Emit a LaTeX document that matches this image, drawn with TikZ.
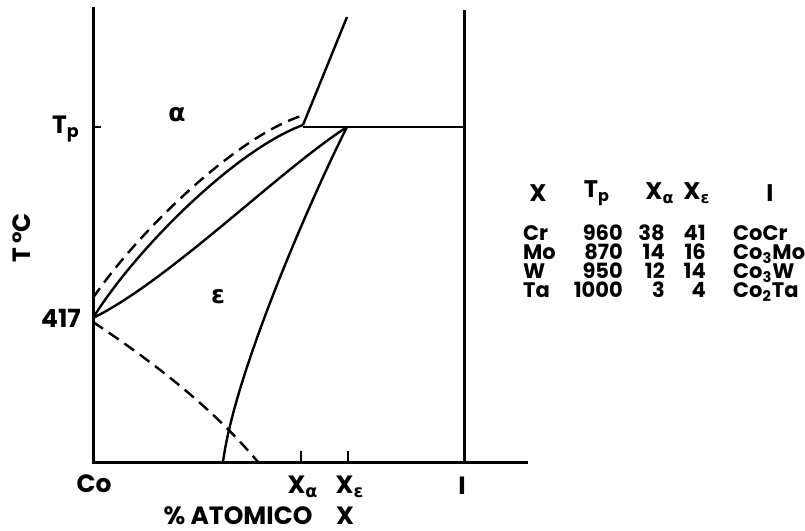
\documentclass[tikz,border=0pt]{standalone}
\usepackage{fontspec}
\setmainfont{Poppins}
\newfontfamily\greekfont{DejaVu Sans}
\usepackage{tikz}
\usetikzlibrary{positioning}

\newcommand{\al}{{\greekfont α}}
\newcommand{\ep}{{\greekfont ε}}

\begin{document}
\begin{tikzpicture}[x=0.5pt,y=-0.5pt,
    line width=1.2pt,
    axis/.style={line width=1.5pt},
    phase/.style={line width=1.2pt},
    dashline/.style={line width=1.2pt,dash pattern=on 6pt off 3.5pt},
    lbl/.style={font=\fontsize{12.5}{14}\selectfont\bfseries,inner sep=1pt},
    tab/.style={font=\fontsize{10.5}{12}\selectfont\bfseries,inner sep=0.5pt,text height=1.4ex,text depth=0pt},
    head/.style={font=\fontsize{12}{14}\selectfont\bfseries,inner sep=1pt}
  ]
    \useasboundingbox (0,0) rectangle (805,531);

    % frame of the diagram
    \coordinate (o) at (93,462);
    \coordinate (ytop) at (93,7);
    \coordinate (xend) at (528,462);
    \coordinate (itop) at (464,10);
    \coordinate (ibot) at (464,462);
    \coordinate (tp) at (93,127);
    \coordinate (tpr) at (464,127);
    \coordinate (xa) at (301,462);
    \coordinate (xe) at (348,462);
    \draw[axis] (ytop) -- (o) -- (xend);
    \draw[axis] (itop) -- (ibot);
    \draw (tp) -- ++(8,0);
    \draw (xa) -- ++(0,-11);
    \draw (xe) -- ++(0,-11);

    % phase boundaries
    \coordinate (p417) at (93,318);
    \coordinate (d417) at (93,298);
    \coordinate (m417) at (93,322);
    \coordinate (avert) at (303,125);
    \coordinate (dvert) at (301,116);
    \coordinate (evert) at (347,127);
    \coordinate (ltop) at (347,17);
    \coordinate (eend) at (223,462);
    \coordinate (dend) at (258,462);
    \draw[phase] (avert) -- (ltop);
    \draw[phase] (avert |- tpr) -- (tpr);
    \draw[phase] (p417) .. controls (135,250) and (235,150) .. (avert);
    \draw[dashline] (d417) .. controls (135,236) and (232,139) .. (dvert);
    \draw[phase] (p417) .. controls (170,280) and (280,170) .. (evert);
    \draw[phase] (evert) .. controls (315,190) and (235,370) .. (eend);
    \draw[dashline] (m417) .. controls (150,360) and (210,405) .. (dend);

    % labels of the diagram
    \node[lbl, anchor=east] (tplbl) at (83,129) {T\textsubscript{p}};
    \node[lbl, anchor=east] (lbl417) at (84,318) {417};
    \node[lbl, rotate=90] (tlbl) at (22,238) {T\,°C};
    \node[lbl] (alpha) at (177,115) {\al};
    \node[lbl] (eps) at (218,297) {\ep};
    \node[lbl] (co) at (94,484) {Co};
    \node[lbl] (xalbl) at (303,487) {X\textsubscript{\al}};
    \node[lbl] (xelbl) at (350,487) {X\textsubscript{\ep}};
    \node[lbl] (ilbl) at (462,486) {I};
    \node[lbl] (atom) at (238,516) {\% ATOMICO};
    \node[lbl] (xlbl) at (345,516) {X};

    % table
    \node[head] (hx) at (538,193) {X};
    \node[head] (htp) at (597,193) {T\textsubscript{p}};
    \node[head] (hxa) at (660,193) {X\textsubscript{\al}};
    \node[head] (hxe) at (697,193) {X\textsubscript{\ep}};
    \node[head] (hi) at (770,193) {I};

    \node[tab, anchor=west] (cr) at (521,233) {Cr};
    \node[tab, anchor=east] (crtp) at (625,233) {960};
    \node[tab, anchor=east] (crxa) at (667,233) {38};
    \node[tab, anchor=east] (crxe) at (708,233) {41};
    \node[tab, anchor=west] (cri) at (731,233) {CoCr};

    \node[tab, anchor=west] (mo) at (521,252) {Mo};
    \node[tab, anchor=east] (motp) at (625,252) {870};
    \node[tab, anchor=east] (moxa) at (667,252) {14};
    \node[tab, anchor=east] (moxe) at (708,252) {16};
    \node[tab, anchor=west] (moi) at (731,252) {Co\textsubscript{3}Mo};

    \node[tab, anchor=west] (w) at (521,271) {W};
    \node[tab, anchor=east] (wtp) at (625,271) {950};
    \node[tab, anchor=east] (wxa) at (667,271) {12};
    \node[tab, anchor=east] (wxe) at (708,271) {14};
    \node[tab, anchor=west] (wi) at (731,271) {Co\textsubscript{3}W};

    \node[tab, anchor=west] (ta) at (521,290) {Ta};
    \node[tab, anchor=east] (tatp) at (625,290) {1000};
    \node[tab, anchor=east] (taxa) at (667,290) {3};
    \node[tab, anchor=east] (taxe) at (708,290) {4};
    \node[tab, anchor=west] (tai) at (731,290) {Co\textsubscript{2}Ta};
  \end{tikzpicture}
\end{document}
